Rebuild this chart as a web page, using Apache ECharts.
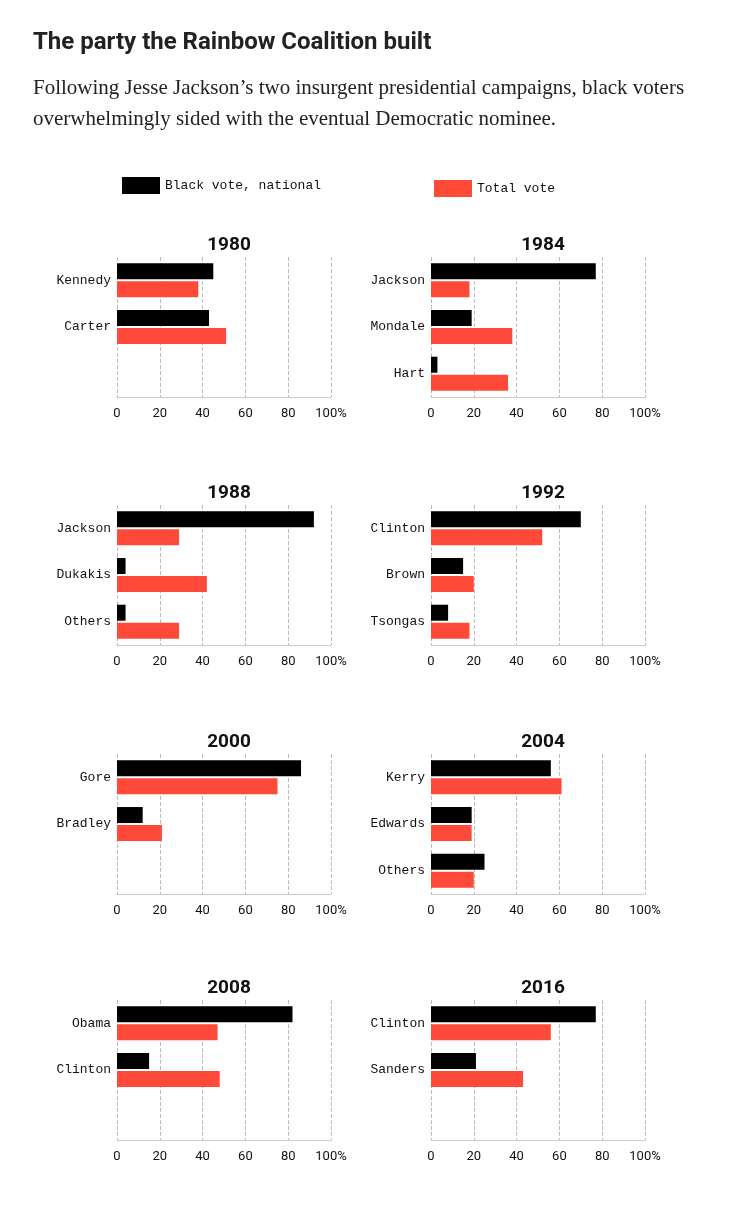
<!DOCTYPE html>
<html><head><meta charset="utf-8">
<script src="https://cdn.jsdelivr.net/npm/echarts@6/dist/echarts.min.js"></script>
<style>body{margin:0;background:#fff}#c{width:736px;height:1216px}</style></head>
<body><div id="c"></div>
<script>
const years = ['1980','1984','1988','1992','2000','2004','2008','2016'];
const candidates = [
  ['Kennedy','Carter',''],
  ['Jackson','Mondale','Hart'],
  ['Jackson','Dukakis','Others'],
  ['Clinton','Brown','Tsongas'],
  ['Gore','Bradley',''],
  ['Kerry','Edwards','Others'],
  ['Obama','Clinton',''],
  ['Clinton','Sanders','']
];
const blackVote = [[45,43],[77,19,3],[92,4,4],[70,15,8],[86,12],[56,19,25],[82,15],[77,21]];
const totalVote = [[38,51],[18,38,36],[29,42,29],[52,20,18],[75,21],[61,19,20],[47,48],[56,43]];
const xTicks = [0,20,40,60,80,100];

const lefts=[117,431], tops=[257,505,754,1000];
const grids=[],xAxes=[],yAxes=[],series=[],titles=[];
years.forEach((y,i)=>{
  const l=lefts[i%2], t=tops[Math.floor(i/2)];
  grids.push({left:l,top:t,width:214,height:140});
  titles.push({text:y,left:l+107,top:t-26,textAlign:'center',
    textStyle:{fontFamily:'Roboto',fontWeight:'bold',fontSize:19,color:'#111'}});
  xAxes.push({gridIndex:i,type:'value',min:0,max:100,interval:20,
    axisLine:{show:true,lineStyle:{color:'#ccc'}},axisTick:{show:false},
    splitLine:{show:true,lineStyle:{type:'dashed',color:'#bbb'}},
    axisLabel:{margin:10,fontSize:13,color:'#111',fontFamily:'Roboto',
      formatter:v=>v===100?'100%':String(v)}});
  yAxes.push({gridIndex:i,type:'category',inverse:true,data:candidates[i],
    axisLine:{show:false},axisTick:{show:false},
    axisLabel:{fontFamily:'Liberation Mono',fontSize:13,color:'#111',margin:6}});
  series.push({name:'Black vote, national',type:'bar',xAxisIndex:i,yAxisIndex:i,
    data:blackVote[i],barWidth:16,barGap:'12%',itemStyle:{color:'#000'},silent:true});
  series.push({name:'Total vote',type:'bar',xAxisIndex:i,yAxisIndex:i,
    data:totalVote[i],barWidth:16,barGap:'12%',itemStyle:{color:'#ff4a3a'},silent:true});
});
titles.push({text:'The party the Rainbow Coalition built',left:28,top:26,
  textStyle:{fontFamily:'Roboto',fontWeight:'bold',fontSize:24,color:'#222'}});
titles.push({text:'Following Jesse Jackson\u2019s two insurgent presidential campaigns, black voters\noverwhelmingly sided with the eventual Democratic nominee.',left:28,top:68,
  textStyle:{fontFamily:'Liberation Serif',fontWeight:'normal',fontSize:21,lineHeight:31,color:'#222'}});
const chart=echarts.init(document.getElementById('c'));
chart.setOption({
  animation:false,
  title:titles,
  legend:[
    {data:['Black vote, national'],left:117,top:172,itemWidth:38,itemHeight:17,itemGap:10,icon:'rect',selectedMode:false,
     textStyle:{fontFamily:'Liberation Mono',fontSize:13,color:'#111'}},
    {data:['Total vote'],left:429,top:175,itemWidth:38,itemHeight:17,icon:'rect',selectedMode:false,
     textStyle:{fontFamily:'Liberation Mono',fontSize:13,color:'#111'}}
  ],
  grid:grids,xAxis:xAxes,yAxis:yAxes,series:series
});
</script></body></html>
